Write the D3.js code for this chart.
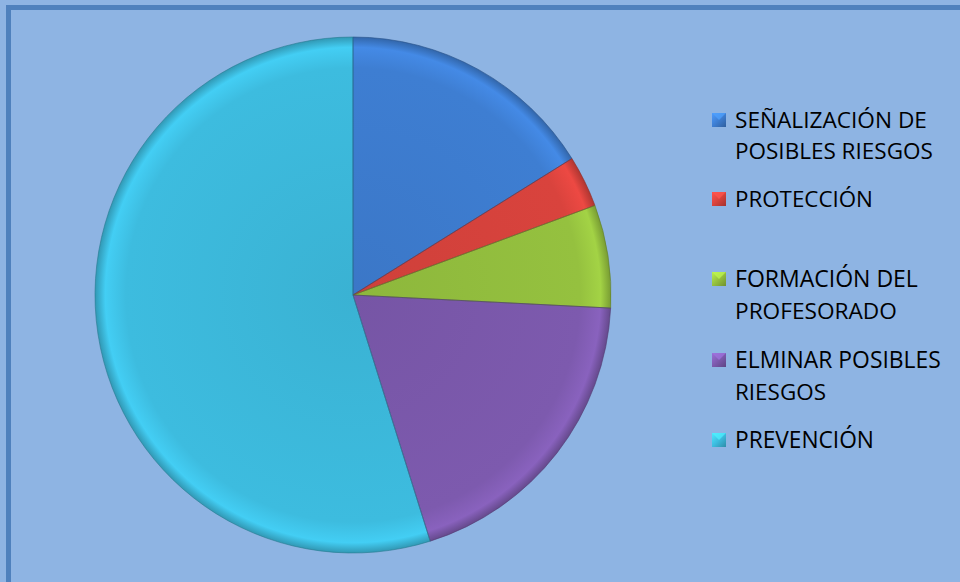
<!DOCTYPE html>
<html><head><meta charset="utf-8">
<script src="https://cdn.jsdelivr.net/npm/d3@7"></script>
<style>html,body{margin:0;padding:0;background:#8EB4E3;overflow:hidden}</style>
</head><body>
<svg id="c" width="960" height="582"></svg>
<script>
const categories = ["SEÑALIZACIÓN DE POSIBLES RIESGOS","PROTECCIÓN","FORMACIÓN DEL PROFESORADO","ELMINAR POSIBLES RIESGOS","PREVENCIÓN"];
const values = [5, 1, 2, 6, 17];
const legendLines = [["SEÑALIZACIÓN DE","POSIBLES RIESGOS"],["PROTECCIÓN"],["FORMACIÓN DEL","PROFESORADO"],["ELMINAR POSIBLES","RIESGOS"],["PREVENCIÓN"]];
const colors = ["#3E7ED2","#D9433D","#95C13F","#7D5AAE","#3DBCDF"];

const svg = d3.select("#c");
const W = 960, H = 582;
svg.append("rect").attr("x",0).attr("y",0).attr("width",W).attr("height",H).attr("fill","#8EB4E3");
svg.append("rect").attr("x",8.5).attr("y",7.5).attr("width",W).attr("height",H).attr("fill","none").attr("stroke","#4F81BD").attr("stroke-width",5);

const defs = svg.append("defs");
colors.forEach((c,i)=>{
  const g = defs.append("radialGradient").attr("id","g"+i).attr("gradientUnits","userSpaceOnUse")
    .attr("cx",353).attr("cy",295).attr("r",258);
  const base = d3.color(c);
  g.append("stop").attr("offset","0%").attr("stop-color",base.darker(0.15));
  g.append("stop").attr("offset","88%").attr("stop-color",base);
  g.append("stop").attr("offset","96%").attr("stop-color",base.brighter(0.25));
  g.append("stop").attr("offset","100%").attr("stop-color",base.darker(0.6));
  const lg = defs.append("linearGradient").attr("id","l"+i).attr("x1",0).attr("y1",0).attr("x2",1).attr("y2",1);
  lg.append("stop").attr("offset","0%").attr("stop-color",base.brighter(0.6));
  lg.append("stop").attr("offset","50%").attr("stop-color",base);
  lg.append("stop").attr("offset","100%").attr("stop-color",base.darker(0.8));
});

const cx = 353, cy = 295, R = 258;
const pie = d3.pie().sort(null).value(d=>d)(values);
const arc = d3.arc().innerRadius(0).outerRadius(R);
const g = svg.append("g").attr("transform",`translate(${cx},${cy})`);
g.selectAll("path.s").data(pie).enter().append("path").attr("class","s")
  .attr("d",arc).attr("fill",(d,i)=>`url(#g${i})`)
  .attr("transform",`translate(${-cx},${-cy})`).attr("transform",null);
// fix gradient coordinates: gradient in user space of the g -> set center 0,0
defs.selectAll("radialGradient").attr("cx",0).attr("cy",0);
g.selectAll("path.e").data(pie).enter().append("path").attr("class","e")
  .attr("d",arc).attr("fill","none").attr("stroke",(d,i)=>d3.color(colors[i]).darker(1.2)).attr("stroke-width",1).attr("stroke-opacity",0.6);

// legend
const lx = 712, sq = 14;
const baselines = [[128,159],[207],[287,319],[368,400],[448]];
const lg = svg.append("g");
legendLines.forEach((lines,i)=>{
  const b0 = baselines[i][0];
  lg.append("rect").attr("x",lx).attr("y",b0-15).attr("width",sq).attr("height",sq).attr("fill",`url(#l${i})`);
  lg.append("path").attr("d",`M${lx},${b0-15} L${lx+sq},${b0-15} L${lx+sq/2},${b0-15+sq/2} Z`).attr("fill",d3.color(colors[i]).brighter(0.7)).attr("opacity",0.7);
  lines.forEach((t,j)=>{
    lg.append("text").attr("x",735).attr("y",baselines[i][j]).text(t)
      .attr("font-family","'Open Sans', 'Noto Sans', sans-serif").attr("font-size",20).attr("fill","#000");
  });
});
// fit widths to reference
const targetW = {"SEÑALIZACIÓN DE":192,"POSIBLES RIESGOS":198,"PROTECCIÓN":138,"FORMACIÓN DEL":183,"PROFESORADO":162,"ELMINAR POSIBLES":206,"RIESGOS":91,"PREVENCIÓN":139};
lg.selectAll("text").each(function(){
  const t = d3.select(this).text();
  const w = this.getComputedTextLength();
  if (targetW[t]) d3.select(this).attr("font-size",20*targetW[t]/w);
});
</script>
</body></html>
